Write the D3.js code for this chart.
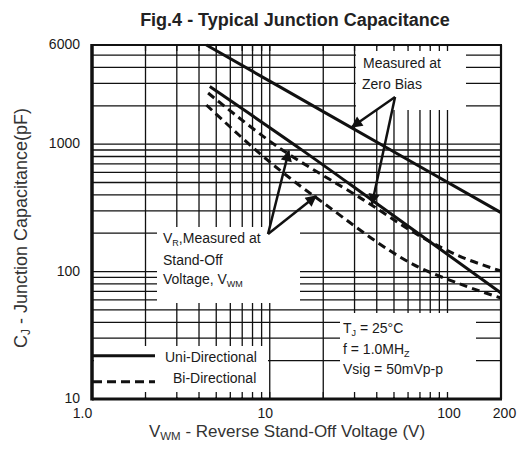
<!DOCTYPE html>
<html><head><meta charset="utf-8">
<script src="https://cdn.jsdelivr.net/npm/d3@7"></script>
<style>body{margin:0;background:#fff}svg{display:block;font-family:Arial,"Liberation Sans",sans-serif}</style>
</head><body><svg id="c" width="522" height="455"></svg>
<script>
// ---- data ----
const xTickValues=[1,10,100,200];
const xTickLabels=["1.0","10","100","200"];
const yTickValues=[10,100,1000,6000];
const yTickLabels=["10","100","1000","6000"];
const xGrid=[2,3,4,5,6,7,8,9,10,20,30,40,50,60,70,80,90,100];
const yGrid=[20,30,40,50,60,70,80,90,100,200,300,400,500,600,700,800,900,1000,2000,3000,4000,5000];
const zeroBiasV=[4.4,20,200];
const zeroBiasC=[6000,1800,290];
const uniV=[4.6,15,38,200];
const uniC=[2830,910,360,68];
const biUpperV=[4.5,11,33.5,70,120,200];
const biUpperC=[2520,960,367,190,130,101];
const biLowerV=[4.4,9.65,19.9,64,200];
const biLowerC=[2030,755,348,114,62];
// arrows in data coordinates [fromV, fromC, toV, toC]
const arrowsZero=[[50.7,2344,29.0,1363],[50.7,2344,37.6,339]];
const arrowsVR=[[9.78,197,12.8,883],[9.78,197,18.2,392]];

const svg=d3.select("#c");
const L=92,R=501,T=45,B=399;
const x=d3.scaleLog().domain([1,200]).range([L,R]);
const y=d3.scaleLog().domain([10,6000]).range([B,T]);
const ink="#111";

// grid
const g=svg.append("g");
g.selectAll(".vx").data(xGrid).join("line").attr("x1",d=>x(d)).attr("x2",d=>x(d)).attr("y1",T).attr("y2",B).attr("stroke",ink).attr("stroke-width",1.3);
g.selectAll(".hy").data(yGrid).join("line").attr("x1",L).attr("x2",R).attr("y1",d=>y(d)).attr("y2",d=>y(d)).attr("stroke",ink).attr("stroke-width",1.3);

// white boxes behind annotations
const boxes=[[356,46.5,110,63.5],[157,227,143,76],[94,346,174,51],[340,313,136,84]];
svg.selectAll(".box").data(boxes).join("rect").attr("x",d=>d[0]).attr("y",d=>d[1]).attr("width",d=>d[2]).attr("height",d=>d[3]).attr("fill","#fff");

// small ticks at top and bottom
svg.selectAll(".tt").data(xGrid).join("line").attr("x1",d=>x(d)).attr("x2",d=>x(d)).attr("y1",T).attr("y2",T+6).attr("stroke",ink).attr("stroke-width",1.3);
svg.selectAll(".bt").data(xGrid).join("line").attr("x1",d=>x(d)).attr("x2",d=>x(d)).attr("y1",B-7).attr("y2",B).attr("stroke",ink).attr("stroke-width",1.3);

// curves
const line=d3.line().x(d=>x(d[0])).y(d=>y(d[1])).curve(d3.curveCatmullRom.alpha(0.5));
const zip=(a,b)=>a.map((v,i)=>[v,b[i]]);
svg.append("path").attr("d",line(zip(zeroBiasV,zeroBiasC))).attr("fill","none").attr("stroke",ink).attr("stroke-width",3);
svg.append("path").attr("d",line(zip(uniV,uniC))).attr("fill","none").attr("stroke",ink).attr("stroke-width",3);
svg.append("path").attr("d",line(zip(biUpperV,biUpperC))).attr("fill","none").attr("stroke",ink).attr("stroke-width",3).attr("stroke-dasharray","8,5");
svg.append("path").attr("d",line(zip(biLowerV,biLowerC))).attr("fill","none").attr("stroke",ink).attr("stroke-width",3).attr("stroke-dasharray","8,5");

// arrows
svg.append("defs").append("marker").attr("id","ah").attr("viewBox","0 0 10 10").attr("refX",9).attr("refY",5)
  .attr("markerWidth",6).attr("markerHeight",4.5).attr("orient","auto")
  .append("path").attr("d","M0,0L10,5L0,10Z").attr("fill",ink);
svg.selectAll(".ar").data(arrowsZero.concat(arrowsVR)).join("line")
  .attr("x1",d=>x(d[0])).attr("y1",d=>y(d[1])).attr("x2",d=>x(d[2])).attr("y2",d=>y(d[3]))
  .attr("stroke",ink).attr("stroke-width",2.5).attr("marker-end","url(#ah)");

// frame
svg.append("line").attr("x1",L).attr("x2",L).attr("y1",T-1).attr("y2",B+1.5).attr("stroke",ink).attr("stroke-width",3.5);
svg.append("line").attr("x1",L).attr("x2",R+1).attr("y1",B).attr("y2",B).attr("stroke",ink).attr("stroke-width",3);
svg.append("line").attr("x1",L).attr("x2",R+1).attr("y1",T).attr("y2",T).attr("stroke",ink).attr("stroke-width",2.2);
svg.append("line").attr("x1",R).attr("x2",R).attr("y1",T).attr("y2",B).attr("stroke",ink).attr("stroke-width",2.2);

// axes labels
const xa=svg.append("g").attr("transform",`translate(0,${B})`)
  .call(d3.axisBottom(x).tickValues(xTickValues).tickFormat((d,i)=>xTickLabels[i]).tickSize(0).tickPadding(0));
xa.select(".domain").remove();
const xdx=[-10,-5,1,3];
xa.selectAll("text").attr("font-size",14).attr("font-family","Arial,'Liberation Sans',sans-serif").attr("fill","#1a1a1a")
  .attr("dy",null).attr("y",19).attr("dx",(d,i)=>xdx[i]);
const ya=svg.append("g").attr("transform",`translate(${L},0)`)
  .call(d3.axisLeft(y).tickValues(yTickValues).tickFormat((d,i)=>yTickLabels[i]).tickSize(0).tickPadding(12));
ya.select(".domain").remove();
ya.selectAll("text").attr("font-size",14).attr("font-family","Arial,'Liberation Sans',sans-serif").attr("fill","#1a1a1a").attr("dy","0.25em");

// titles
svg.append("text").attr("x",295).attr("y",26).attr("text-anchor","middle").attr("font-weight","bold").attr("font-size",18).attr("fill","#222").text("Fig.4 - Typical Junction Capacitance");
const xt=svg.append("text").attr("x",287).attr("y",437).attr("text-anchor","middle").attr("font-size",17).attr("fill","#333");
xt.append("tspan").text("V");
xt.append("tspan").attr("font-size",11.5).attr("dy",3).text("WM");
xt.append("tspan").attr("dy",-3).text(" - Reverse Stand-Off Voltage (V)");
const yt=svg.append("text").attr("transform","translate(27,228) rotate(-90)").attr("text-anchor","middle").attr("font-size",18).attr("fill","#333");
yt.append("tspan").text("C");
yt.append("tspan").attr("font-size",12).attr("dy",3).text("J");
yt.append("tspan").attr("dy",-3).text(" - Junction Capacitance(pF)");

// annotation texts
const ann=(tx,ty,parts)=>{const t=svg.append("text").attr("x",tx).attr("y",ty).attr("font-size",14).attr("fill","#1a1a1a");
  parts.forEach(p=>{const s=t.append("tspan").text(p[0]); if(p[1]){s.attr("font-size",9).attr("dy",3);} else if(p[2]){s.attr("dy",-3);} });};
ann(363,68,[["Measured at"]]);
ann(362,89,[["Zero Bias"]]);
ann(163,243,[["V"],["R",1],[",Measured at",0,1]]);
ann(163,265,[["Stand-Off"]]);
ann(163,284,[["Voltage, V"],["WM",1]]);
ann(165,362,[["Uni-Directional"]]);
ann(173,383,[["Bi-Directional"]]);
ann(343,333,[["T"],["J",1],[" = 25°C",0,1]]);
ann(343,354,[["f = 1.0MH"],["Z",1]]);
ann(343,374,[["Vsig = 50mVp-p"]]);

// legend lines
svg.append("line").attr("x1",93).attr("x2",155).attr("y1",355.7).attr("y2",355.7).attr("stroke",ink).attr("stroke-width",3);
svg.append("line").attr("x1",93).attr("x2",155).attr("y1",381.7).attr("y2",381.7).attr("stroke",ink).attr("stroke-width",3).attr("stroke-dasharray","9,5");
</script></body></html>
